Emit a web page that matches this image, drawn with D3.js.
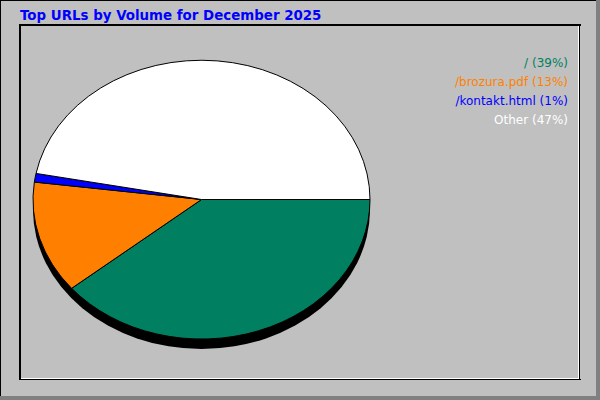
<!DOCTYPE html>
<html>
<head>
<meta charset="utf-8">
<script src="https://cdn.jsdelivr.net/npm/d3@7"></script>
<style>
  html, body { margin: 0; padding: 0; background: #c0c0c0; }
  svg { display: block; }
</style>
</head>
<body>
<svg id="chart" width="600" height="400"></svg>
<script>
const title = "Top URLs by Volume for December 2025";
const labels = ["/", "/brozura.pdf", "/kontakt.html", "Other"];
const percents = [39, 13, 1, 47];
const colors = ["#008060", "#ff8000", "#0000ff", "#ffffff"];

const W = 600, H = 400;
const svg = d3.select("#chart");

// background and frames
svg.append("rect").attr("x", 0).attr("y", 0).attr("width", W).attr("height", H).attr("fill", "#c0c0c0");
svg.append("rect").attr("x", 0).attr("y", 396).attr("width", W).attr("height", 4).attr("fill", "#808080");
svg.append("rect").attr("x", 596).attr("y", 0).attr("width", 4).attr("height", H).attr("fill", "#808080");
svg.append("rect").attr("x", 0).attr("y", 0).attr("width", 596).attr("height", 1).attr("fill", "#000");
svg.append("rect").attr("x", 0).attr("y", 0).attr("width", 1).attr("height", 396).attr("fill", "#000");

// inner frame
svg.append("rect").attr("x", 19).attr("y", 24).attr("width", 562).attr("height", 2).attr("fill", "#000");
svg.append("rect").attr("x", 19).attr("y", 24).attr("width", 2).attr("height", 356).attr("fill", "#000");
svg.append("rect").attr("x", 21).attr("y", 378).attr("width", 558).attr("height", 1).attr("fill", "#fff");
svg.append("rect").attr("x", 578).attr("y", 26).attr("width", 1).attr("height", 353).attr("fill", "#fff");
svg.append("rect").attr("x", 19).attr("y", 379).attr("width", 562).attr("height", 1).attr("fill", "#000");
svg.append("rect").attr("x", 579).attr("y", 24).attr("width", 1).attr("height", 356).attr("fill", "#000");

// title
svg.append("text")
  .attr("x", 20).attr("y", 20)
  .attr("font-family", "DejaVu Sans")
  .attr("font-weight", "bold")
  .attr("font-size", 13.4)
  .attr("fill", "#0000ff")
  .text(title);

// pie
const cx = 201.5, cy = 199.5, rx = 168.5, ry = 139.5, depth = 10;

// shadow
svg.append("ellipse")
  .attr("cx", cx).attr("cy", cy + depth)
  .attr("rx", rx).attr("ry", ry)
  .attr("fill", "#000");

const pie = d3.pie().sort(null).value(d => d)
  .startAngle(Math.PI / 2).endAngle(Math.PI / 2 + 2 * Math.PI);
const arcs = pie(percents);
const arc = d3.arc().innerRadius(0).outerRadius(1);

const g = svg.append("g").attr("transform", `translate(${cx},${cy}) scale(${rx},${ry})`);
g.selectAll("path.slice")
  .data(arcs)
  .enter().append("path")
  .attr("class", "slice")
  .attr("d", arc)
  .attr("fill", (d, i) => colors[i])
  .attr("stroke", "#000")
  .attr("stroke-width", 1)
  .attr("vector-effect", "non-scaling-stroke")
  .attr("stroke-linejoin", "round");

// legend
const legend = svg.append("g");
legend.selectAll("text")
  .data(labels)
  .enter().append("text")
  .attr("x", 568)
  .attr("y", (d, i) => 67 + i * 19)
  .attr("text-anchor", "end")
  .attr("font-family", "DejaVu Sans")
  .attr("font-size", 12)
  .attr("fill", (d, i) => colors[i])
  .text((d, i) => `${d} (${percents[i]}%)`);
</script>
</body>
</html>
